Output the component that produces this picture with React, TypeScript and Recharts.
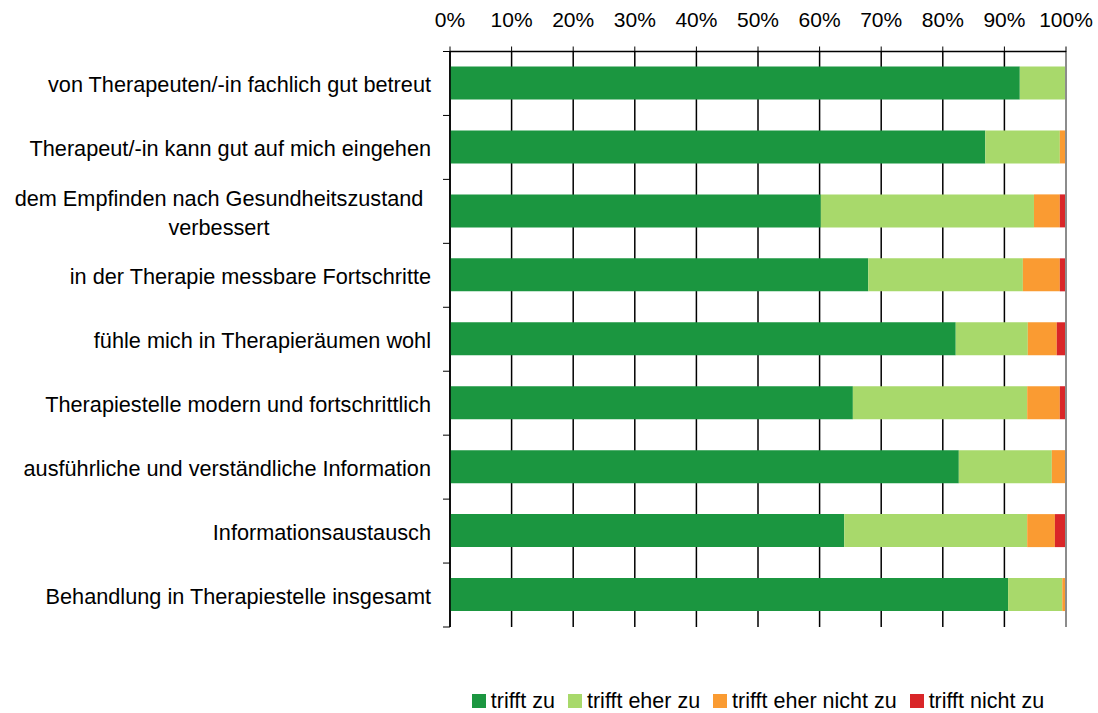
import React from 'react';
import { BarChart, Bar, XAxis, YAxis, CartesianGrid, Legend, ReferenceLine } from 'recharts';

const categories = [
    'von Therapeuten/-in fachlich gut betreut',
    'Therapeut/-in kann gut auf mich eingehen',
    'dem Empfinden nach Gesundheitszustand \nverbessert',
    'in der Therapie messbare Fortschritte',
    'fühle mich in Therapieräumen wohl',
    'Therapiestelle modern und fortschrittlich',
    'ausführliche und verständliche Information',
    'Informationsaustausch',
    'Behandlung in Therapiestelle insgesamt',
];

const trifftZu = [92.5, 86.9, 60.2, 67.9, 82.1, 65.4, 82.6, 64.0, 90.6];
const trifftEherZu = [7.5, 12.1, 34.6, 25.1, 11.7, 28.3, 15.1, 29.7, 8.8];
const trifftEherNichtZu = [0, 1.0, 4.2, 6.0, 4.7, 5.3, 2.3, 4.5, 0.6];
const trifftNichtZu = [0, 0, 1.0, 1.0, 1.5, 1.0, 0, 1.8, 0];

const percentTicks = [0, 10, 20, 30, 40, 50, 60, 70, 80, 90, 100];

const series = [
    { key: 'tz', name: 'trifft zu', color: '#1B9640', values: trifftZu },
    { key: 'tez', name: 'trifft eher zu', color: '#A8D96B', values: trifftEherZu },
    { key: 'tenz', name: 'trifft eher nicht zu', color: '#FA9B32', values: trifftEherNichtZu },
    { key: 'tnz', name: 'trifft nicht zu', color: '#D92628', values: trifftNichtZu },
];

const data = categories.map((name, i) => {
    const row: Record<string, string | number> = { name };
    series.forEach(s => { row[s.key] = s.values[i]; });
    return row;
});

const FONT = '"Liberation Sans", Arial, sans-serif';
const LABEL_SIZE = 21.7;
const CHART_W = 1098;
const CHART_H = 713;
const TOP_AXIS_H = 51.5;
const MARGIN_BOTTOM = 62;
const LEGEND_H = 24;
const BAND = (CHART_H - TOP_AXIS_H - MARGIN_BOTTOM - LEGEND_H) / categories.length;

const CategoryTick = (props: any) => {
    const { x, y, payload, index } = props;
    const lines = String(payload.value).split('\n');
    const axisX = x + 19;
    return (
        <g>
            <line x1={axisX - 7} x2={axisX} y1={y - BAND / 2} y2={y - BAND / 2} stroke="#000" strokeWidth={1} />
            {index === categories.length - 1 && (
                <line x1={axisX - 7} x2={axisX} y1={y + BAND / 2} y2={y + BAND / 2} stroke="#000" strokeWidth={1} />
            )}
            {lines.length === 1 ? (
                <text x={x} y={y + 9} textAnchor="end" fontSize={LABEL_SIZE} fontFamily={FONT} fill="#000">
                    {lines[0]}
                </text>
            ) : (
                lines.map((line, i) => (
                    <text key={i} x={219} y={y - 5.5 + i * 29} textAnchor="middle" fontSize={LABEL_SIZE} fontFamily={FONT} fill="#000">
                        {line}
                    </text>
                ))
            )}
        </g>
    );
};

const LegendContent = () => (
    <div style={{ display: 'flex', justifyContent: 'center', alignItems: 'center', height: LEGEND_H, fontFamily: FONT, fontSize: 21.5, color: '#000' }}>
        {series.map((s, i) => (
            <div key={s.key} style={{ display: 'flex', alignItems: 'center', marginRight: i < series.length - 1 ? 13 : 0 }}>
                <span style={{ width: 14, height: 14, background: s.color, marginRight: 5, display: 'inline-block' }} />
                <span>{s.name}</span>
            </div>
        ))}
    </div>
);

export default function App() {
    return (
        <div style={{ position: 'absolute', left: 0, top: 0, width: CHART_W, height: CHART_H, background: '#fff' }}>
            <BarChart
                width={CHART_W}
                height={CHART_H}
                data={data}
                layout="vertical"
                margin={{ top: 0, right: 32, bottom: MARGIN_BOTTOM, left: 0 }}
            >
                <CartesianGrid horizontal={false} stroke="#000" strokeWidth={1.5} />
                <XAxis
                    type="number"
                    orientation="top"
                    domain={[0, 100]}
                    ticks={percentTicks}
                    tickFormatter={(v: number) => `${v}%`}
                    height={TOP_AXIS_H}
                    tickSize={5}
                    tickMargin={20}
                    interval={0}
                    axisLine={{ stroke: '#000', strokeWidth: 1.5 }}
                    tickLine={{ stroke: '#000' }}
                    tick={{ fill: '#000', fontSize: 21, fontFamily: FONT }}
                />
                <XAxis
                    xAxisId="bottom"
                    type="number"
                    orientation="bottom"
                    domain={[0, 100]}
                    height={0}
                    tick={false}
                    tickLine={false}
                    axisLine={{ stroke: '#8c8c8c', strokeWidth: 2 }}
                />
                <YAxis
                    type="category"
                    dataKey="name"
                    width={450}
                    tickSize={0}
                    tickMargin={19}
                    interval={0}
                    axisLine={{ stroke: '#000', strokeWidth: 1.5 }}
                    tickLine={false}
                    tick={<CategoryTick />}
                />
                {series.map(s => (
                    <Bar key={s.key} dataKey={s.key} name={s.name} stackId="a" fill={s.color} barSize={33} isAnimationActive={false} />
                ))}
                <ReferenceLine x={100} stroke="#8c8c8c" strokeWidth={2} />
                <Legend
                    verticalAlign="bottom"
                    content={<LegendContent />}
                    wrapperStyle={{ left: 450, width: 616, bottom: 0 }}
                />
            </BarChart>
        </div>
    );
}
